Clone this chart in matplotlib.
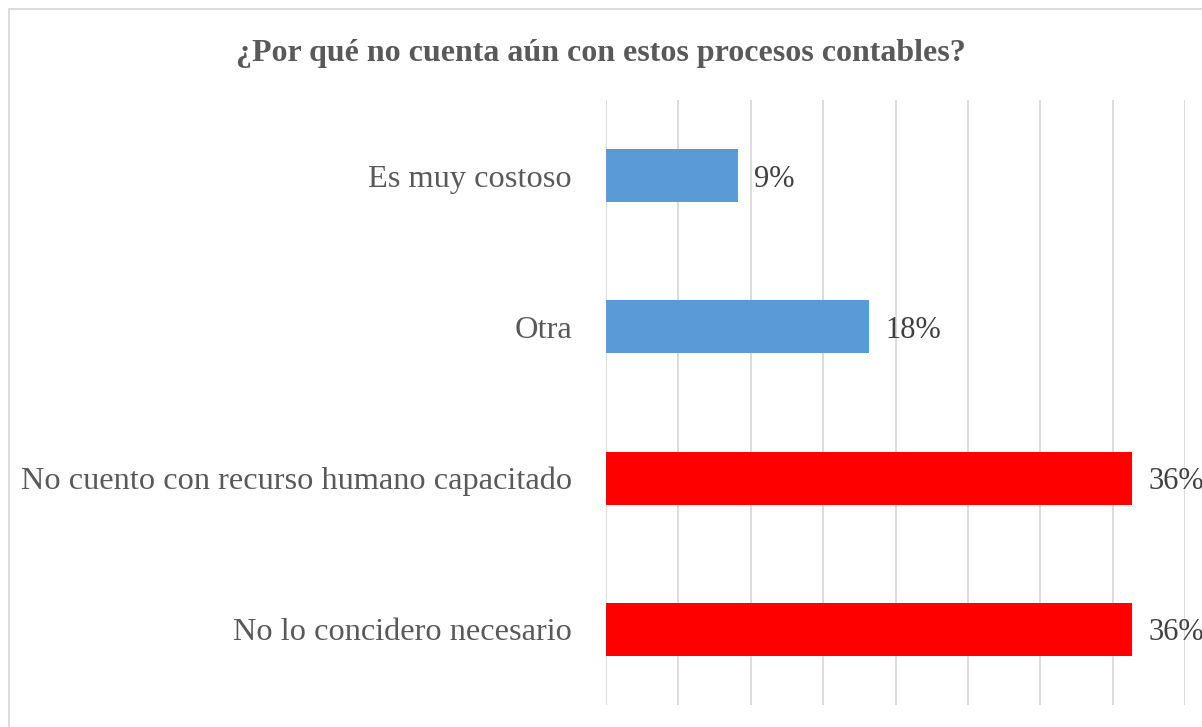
import matplotlib
matplotlib.use("Agg")
import matplotlib.pyplot as plt
from matplotlib.patches import Rectangle

categories = ["Es muy costoso", "Otra", "No cuento con recurso humano capacitado",
              "No lo concidero necesario"]
values = [9.09, 18.18, 36.36, 36.36]
labels = ["9%", "18%", "36%", "36%"]
colors = ["#5B9BD5", "#5B9BD5", "#FF0000", "#FF0000"]
title = "¿Por qué no cuenta aún con estos procesos contables?"

plt.rcParams['font.family'] = ['Liberation Serif', 'DejaVu Serif']

W, H = 1202, 727
fig = plt.figure(figsize=(W / 100, H / 100), dpi=100)

# chart border
fig.patches.append(Rectangle((9 / W, -0.01), 1.1, 1 - 9 / H + 0.01, transform=fig.transFigure,
                             fill=False, edgecolor="#D9D9D9", linewidth=1.3))

left, right, top, bottom = 606, 1185, 100, 705
ax = fig.add_axes([left / W, 1 - bottom / H, (right - left) / W, (bottom - top) / H])

y = list(range(len(categories)))
ax.barh(y, values, height=0.35, color=colors, zorder=2)
ax.set_ylim(len(categories) - 0.5, -0.5)
ax.set_xlim(0, 40)
ax.set_xticks(range(0, 41, 5))
ax.xaxis.grid(True, color="#D9D9D9", linewidth=1.3, zorder=0)
ax.tick_params(axis='x', which='both', bottom=False, labelbottom=False)
ax.tick_params(axis='y', length=0, pad=24.5, labelsize=23.3, labelcolor="#595959")
ax.set_yticks(y)
ax.set_yticklabels(categories)
for s in ax.spines.values():
    s.set_visible(False)

# data labels (the 36% ones run past the right edge, as in the original)
for yi, v, lab in zip(y, values, labels):
    ax.annotate(lab, (v, yi), xytext=(12, -2.5), textcoords="offset points",
                va="center", ha="left", fontsize=22, color="#404040", annotation_clip=False)

fig.text(0.5, 1 - 54 / H, title, ha="center", va="center", fontsize=23,
         fontweight="bold", color="#595959")

fig.savefig("out.png", dpi=100)
